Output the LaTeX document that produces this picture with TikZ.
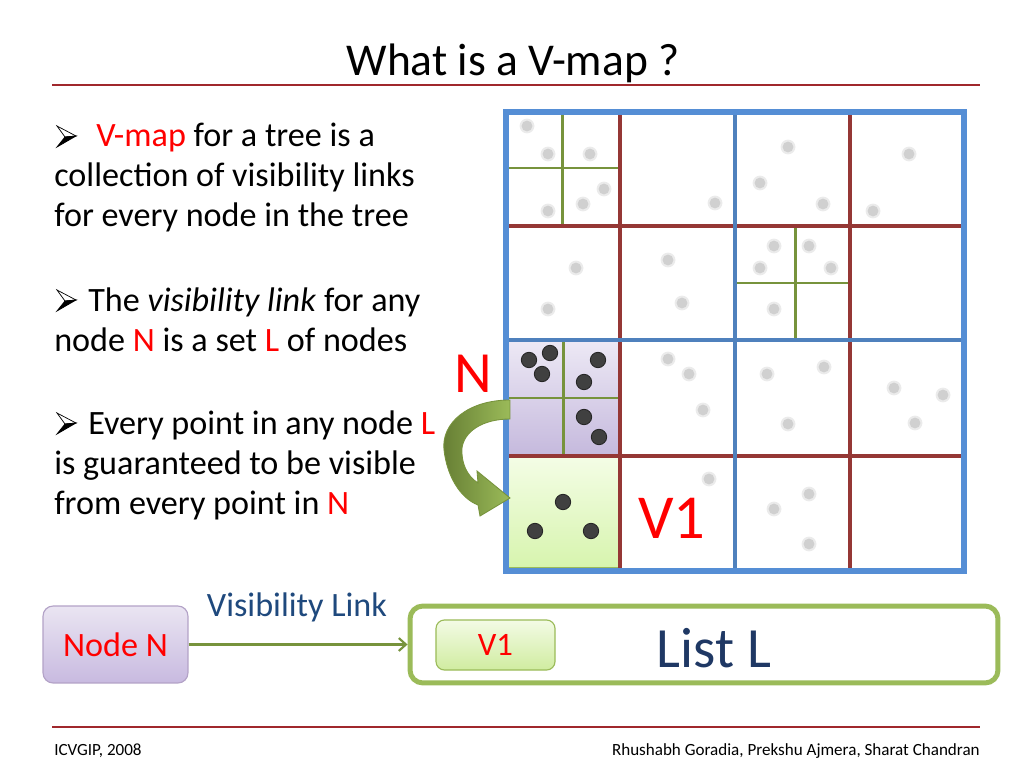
\documentclass[tikz,border=0pt]{standalone}
\usepackage{fontspec}
\setmainfont{Carlito}
\usetikzlibrary{arrows.meta}
\definecolor{gridblue}{HTML}{558ED5}
\definecolor{gridblueB}{HTML}{4F81BD}
\definecolor{gridred}{HTML}{953735}
\definecolor{gridgreen}{HTML}{77933C}
\definecolor{litegreen}{HTML}{9BBB59}
\definecolor{slred}{HTML}{A0282C}
\definecolor{txtred}{HTML}{FF0000}
\definecolor{navy}{HTML}{1F3864}
\definecolor{linkblue}{HTML}{1F497D}
\definecolor{dotgray}{HTML}{D0D0D0}
\definecolor{dothalo}{HTML}{EBEBEB}
\definecolor{dotdark}{HTML}{404040}
\tikzset{
  body/.style={anchor=base west, inner sep=0pt, font=\fontsize{24}{28}\selectfont},
  redline/.style={gridred, line width=2.2pt},
  greenline/.style={gridgreen, line width=2.1pt},
  blueline/.style={gridblueB, line width=3pt},
  ruleline/.style={slred, line width=2pt},
  footer/.style={anchor=base, inner sep=0pt, font=\fontsize{12}{14}\selectfont},
  bulletarrow/.pic={
    \filldraw[fill=white, draw=black, line width=0.5pt] (57,126) -- (76,136) -- (65,137) -- cycle;
    \filldraw[fill=black, draw=black, line width=0.5pt] (65,137) -- (76,136) -- (57,147) -- cycle;
  },
}
\begin{document}
\begin{tikzpicture}[x=0.703125pt,y=-0.703125pt]
\useasboundingbox (0,0) rectangle (1024,768);
\fill[white] (0,0) rectangle (1024,768);

% title
\node[anchor=base, inner sep=0pt, font=\fontsize{32}{38}\selectfont] (title) at (513,76) {What is a V-map ?};
\draw[ruleline] (52,85) -- (980,85);

% bullets
\pic at (0,0) {bulletarrow};
\node[body] (l1) at (96,147) {\textcolor{txtred}{V-map} for a tree is a};
\node[body] (l2) at (54,187) {collection of visibility links};
\node[body] (l3) at (54,227) {for every node in the tree};
\pic at (0,164) {bulletarrow};
\node[body] (l4) at (88,311) {The \textit{visibility link} for any};
\node[body] (l5) at (54,351) {node \textcolor{txtred}{N} is a set \textcolor{txtred}{L} of nodes};
\pic at (0,287) {bulletarrow};
\node[body] (l6) at (88,434) {Every point in any node \textcolor{txtred}{L}};
\node[body] (l7) at (54,474) {is guaranteed to be visible};
\node[body] (l8) at (54,514) {from every point in \textcolor{txtred}{N}};

% highlighted cells
\shade[top color={rgb,255:red,237;green,233;blue,245}, bottom color={rgb,255:red,197;green,185;blue,221}] (506,340) rectangle (620,456);
\shade[top color={rgb,255:red,244;green,253;blue,230}, bottom color={rgb,255:red,214;green,244;blue,172}] (506,456) rectangle (620,571);

% gray dots
\foreach \p in {(527,126),(548,154),(590,154),(604,189),(583,204),(548,211),(715,203),(788,147),(760,183),(823,204),(909,154),(873,211),
  (576,268),(548,309),(668,260),(682,303),(774,246),(809,246),(760,268),(831,268),(774,309),
  (668,359),(689,374),(703,410),(767,374),(824,367),(788,424),(894,388),(943,395),(915,423),
  (709,479),(809,494),(774,509),(809,544)}{
  \fill[dothalo] \p circle (5.2pt);
  \fill[dotgray] \p circle (3.8pt);
}
% dark dots
\foreach \p in {(529,360),(550,353),(542,374),(598,360),(584,382),(584,417),(599,437),(563,502),(535,531),(591,531)}{
  \fill[dotdark, draw=black!85, line width=0.6pt] \p circle (5.4pt);
}

% green subdivisions
\draw[greenline] (562,112) -- (562,226);
\draw[greenline] (506,168) -- (620,168);
\draw[greenline] (795,226) -- (795,340);
\draw[greenline] (734,283) -- (849,283);
\draw[greenline] (563,340) -- (563,456);
\draw[greenline] (506,398) -- (620,398);
\draw[litegreen, line width=1.2pt] (508,568) -- (618,568);

% red lines
\draw[redline] (620,112) -- (620,571);
\draw[redline] (850,112) -- (850,571);
\draw[redline] (506,226) -- (964,226);
\draw[redline] (506,456) -- (964,456);

% blue lines
\draw[blueline] (735,112) -- (735,571);
\draw[blueline] (506,340) -- (964,340);
\draw[gridblue, line width=3.6pt] (506,112) rectangle (964,571);

% curved arrow
\shade[left color=gridgreen!85!black, right color=litegreen, draw=gridgreen, line width=0.6pt]
  (510,400) .. controls (468,400) and (441,423) .. (444,450)
  .. controls (447,476) and (460,498) .. (478,505)
  -- (480,516) -- (510,498) -- (477,471) -- (478,483)
  .. controls (467,476) and (461,463) .. (462,448)
  .. controls (464,432) and (482,419) .. (510,419) -- cycle;

% big labels
\node[inner sep=0pt, text=txtred, font=\fontsize{41}{48}\selectfont] (bigN) at (473,374) {N};
\node[inner sep=0pt, text=txtred, font=\fontsize{44}{52}\selectfont] (bigV) at (672,518) {V1};

% bottom diagram
\node[draw={rgb,255:red,179;green,162;blue,199}, line width=0.8pt, rounded corners=7pt,
  top color={rgb,255:red,234;green,229;blue,242}, bottom color={rgb,255:red,200;green,186;blue,224},
  minimum width=101.9pt, minimum height=54.1pt, inner sep=0pt,
  text=txtred, font=\fontsize{24}{28}\selectfont] (nodeN) at (115.5,644.5) {Node N};
\node[draw=litegreen, line width=3.5pt, rounded corners=9pt, fill=white,
  minimum width=413.4pt, minimum height=54.1pt, inner sep=0pt] (listL) at (704,644.5) {};
\node[draw=litegreen, line width=0.8pt, rounded corners=6pt,
  top color={rgb,255:red,243;green,251;blue,229}, bottom color={rgb,255:red,208;green,236;blue,160},
  minimum width=83.7pt, minimum height=35.2pt, inner sep=0pt,
  text=txtred, font=\fontsize{23}{27}\selectfont] (v1box) at (495.5,645) {V1};
\node[inner sep=0pt, text=navy, font=\fontsize{40}{48}\selectfont] (listtxt) at (714,648) {List L};
\draw[gridgreen, line width=1.5pt, -{Straight Barb[length=5pt,width=9pt]}] (nodeN.east) -- (listL.west);
\node[inner sep=0pt, text=linkblue, font=\fontsize{24}{28}\selectfont] (linklbl) at (297,607) {Visibility Link};

% footer
\draw[ruleline] (52,727) -- (980,727);
\node[footer, anchor=base west] (foot1) at (54,755) {ICVGIP, 2008};
\node[footer, anchor=base east] (foot2) at (980,755) {Rhushabh Goradia, Prekshu Ajmera, Sharat Chandran};
\end{tikzpicture}
\end{document}
